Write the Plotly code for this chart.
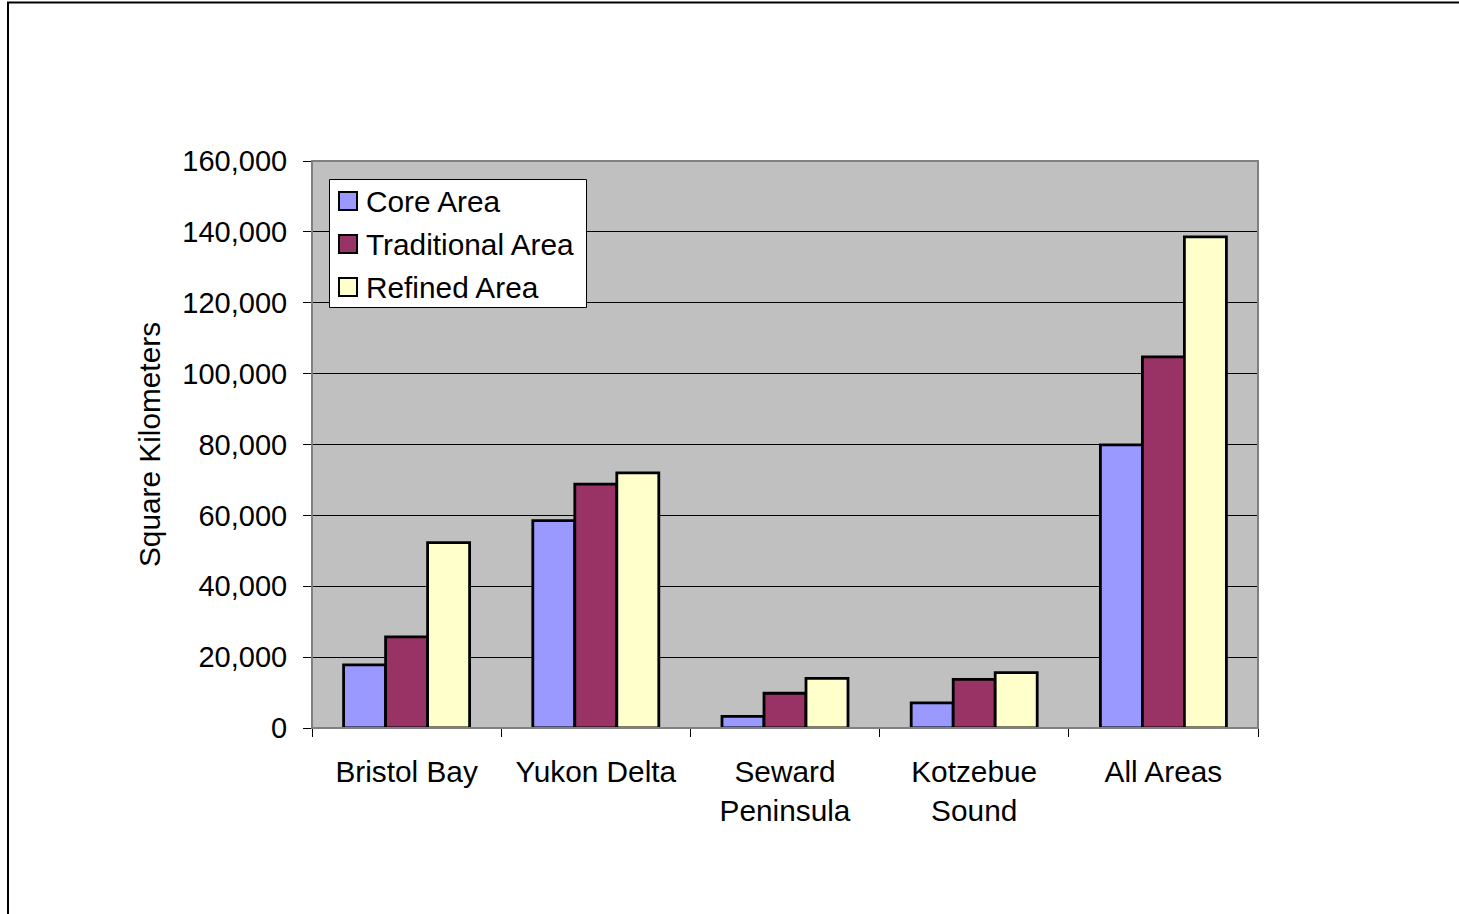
import plotly.graph_objects as go

categories = ["Bristol Bay", "Yukon Delta", "Seward<br>Peninsula", "Kotzebue<br>Sound", "All Areas"]
core_area = [17800, 58500, 3300, 7100, 79900]
traditional_area = [25700, 68800, 9800, 13700, 104700]
refined_area = [52300, 72000, 14000, 15600, 138600]
series_names = ["Core Area", "Traditional Area", "Refined Area"]
series_colors = ["#9999FF", "#993366", "#FFFFCC"]
y_ticks = [0, 20000, 40000, 60000, 80000, 100000, 120000, 140000, 160000]

W, H = 1459, 914
L, R, T, B = 312, 201, 161, 186
FONT = dict(family="Liberation Sans, Arial, sans-serif", size=29, color="black")
FONT_L = dict(family="Liberation Sans, Arial, sans-serif", size=29.8, color="black")

fig = go.Figure()
for name, vals, col in zip(series_names, [core_area, traditional_area, refined_area], series_colors):
    fig.add_trace(go.Bar(x=categories, y=vals, name=name, showlegend=False,
                         marker=dict(color=col, line=dict(color="black", width=2.8))))

pw = W - L - R
ph = H - T - B
def px_x(p):
    return (p - L) / pw
def px_y(p):
    return (H - B - p) / ph

fig.update_layout(
    width=W, height=H,
    margin=dict(l=L, r=R, t=T, b=B, pad=0),
    paper_bgcolor="white", plot_bgcolor="#C0C0C0",
    font=FONT,
    barmode="group", bargap=0.334, bargroupgap=0,
    showlegend=False,
    xaxis=dict(type="category", showgrid=False, showline=True, linecolor="black", linewidth=1,
               ticks="outside", tickson="boundaries", ticklen=8, tickcolor="black",
               tickfont=FONT_L, ticklabelstandoff=17),
    yaxis=dict(range=[0, 160000], tickvals=y_ticks, tickformat=",", showgrid=True,
               gridcolor="black", gridwidth=1, showline=True, linecolor="black", linewidth=1,
               ticks="outside", ticklen=8, tickcolor="black", tickfont=FONT,
               ticklabelstandoff=10, zeroline=False,
               title=dict(text="Square Kilometers", font=FONT_L, standoff=12)),
)

# plot area border (gray) and outer chart border
fig.add_shape(type="rect", xref="paper", yref="paper", x0=0, x1=1, y0=0, y1=1,
              line=dict(color="#808080", width=2), layer="above")
fig.add_shape(type="rect", xref="paper", yref="paper",
              x0=px_x(8), x1=px_x(1480), y0=px_y(940), y1=px_y(2.5),
              line=dict(color="black", width=2), layer="above")

# legend (drawn manually to match the original box)
fig.add_shape(type="rect", xref="paper", yref="paper",
              x0=px_x(329.5), x1=px_x(586.5), y0=px_y(307.5), y1=px_y(179.5),
              fillcolor="white", line=dict(color="black", width=1), layer="above")
row_y = [201, 244, 287]
for name, col, yy in zip(series_names, series_colors, row_y):
    fig.add_shape(type="rect", xref="paper", yref="paper",
                  x0=px_x(339), x1=px_x(357), y0=px_y(yy + 9), y1=px_y(yy - 9),
                  fillcolor=col, line=dict(color="black", width=2), layer="above")
    fig.add_annotation(xref="paper", yref="paper", x=px_x(363.5), y=px_y(yy),
                       xanchor="left", yanchor="middle", text=name, showarrow=False,
                       font=FONT_L)

fig.write_html("out.html")
